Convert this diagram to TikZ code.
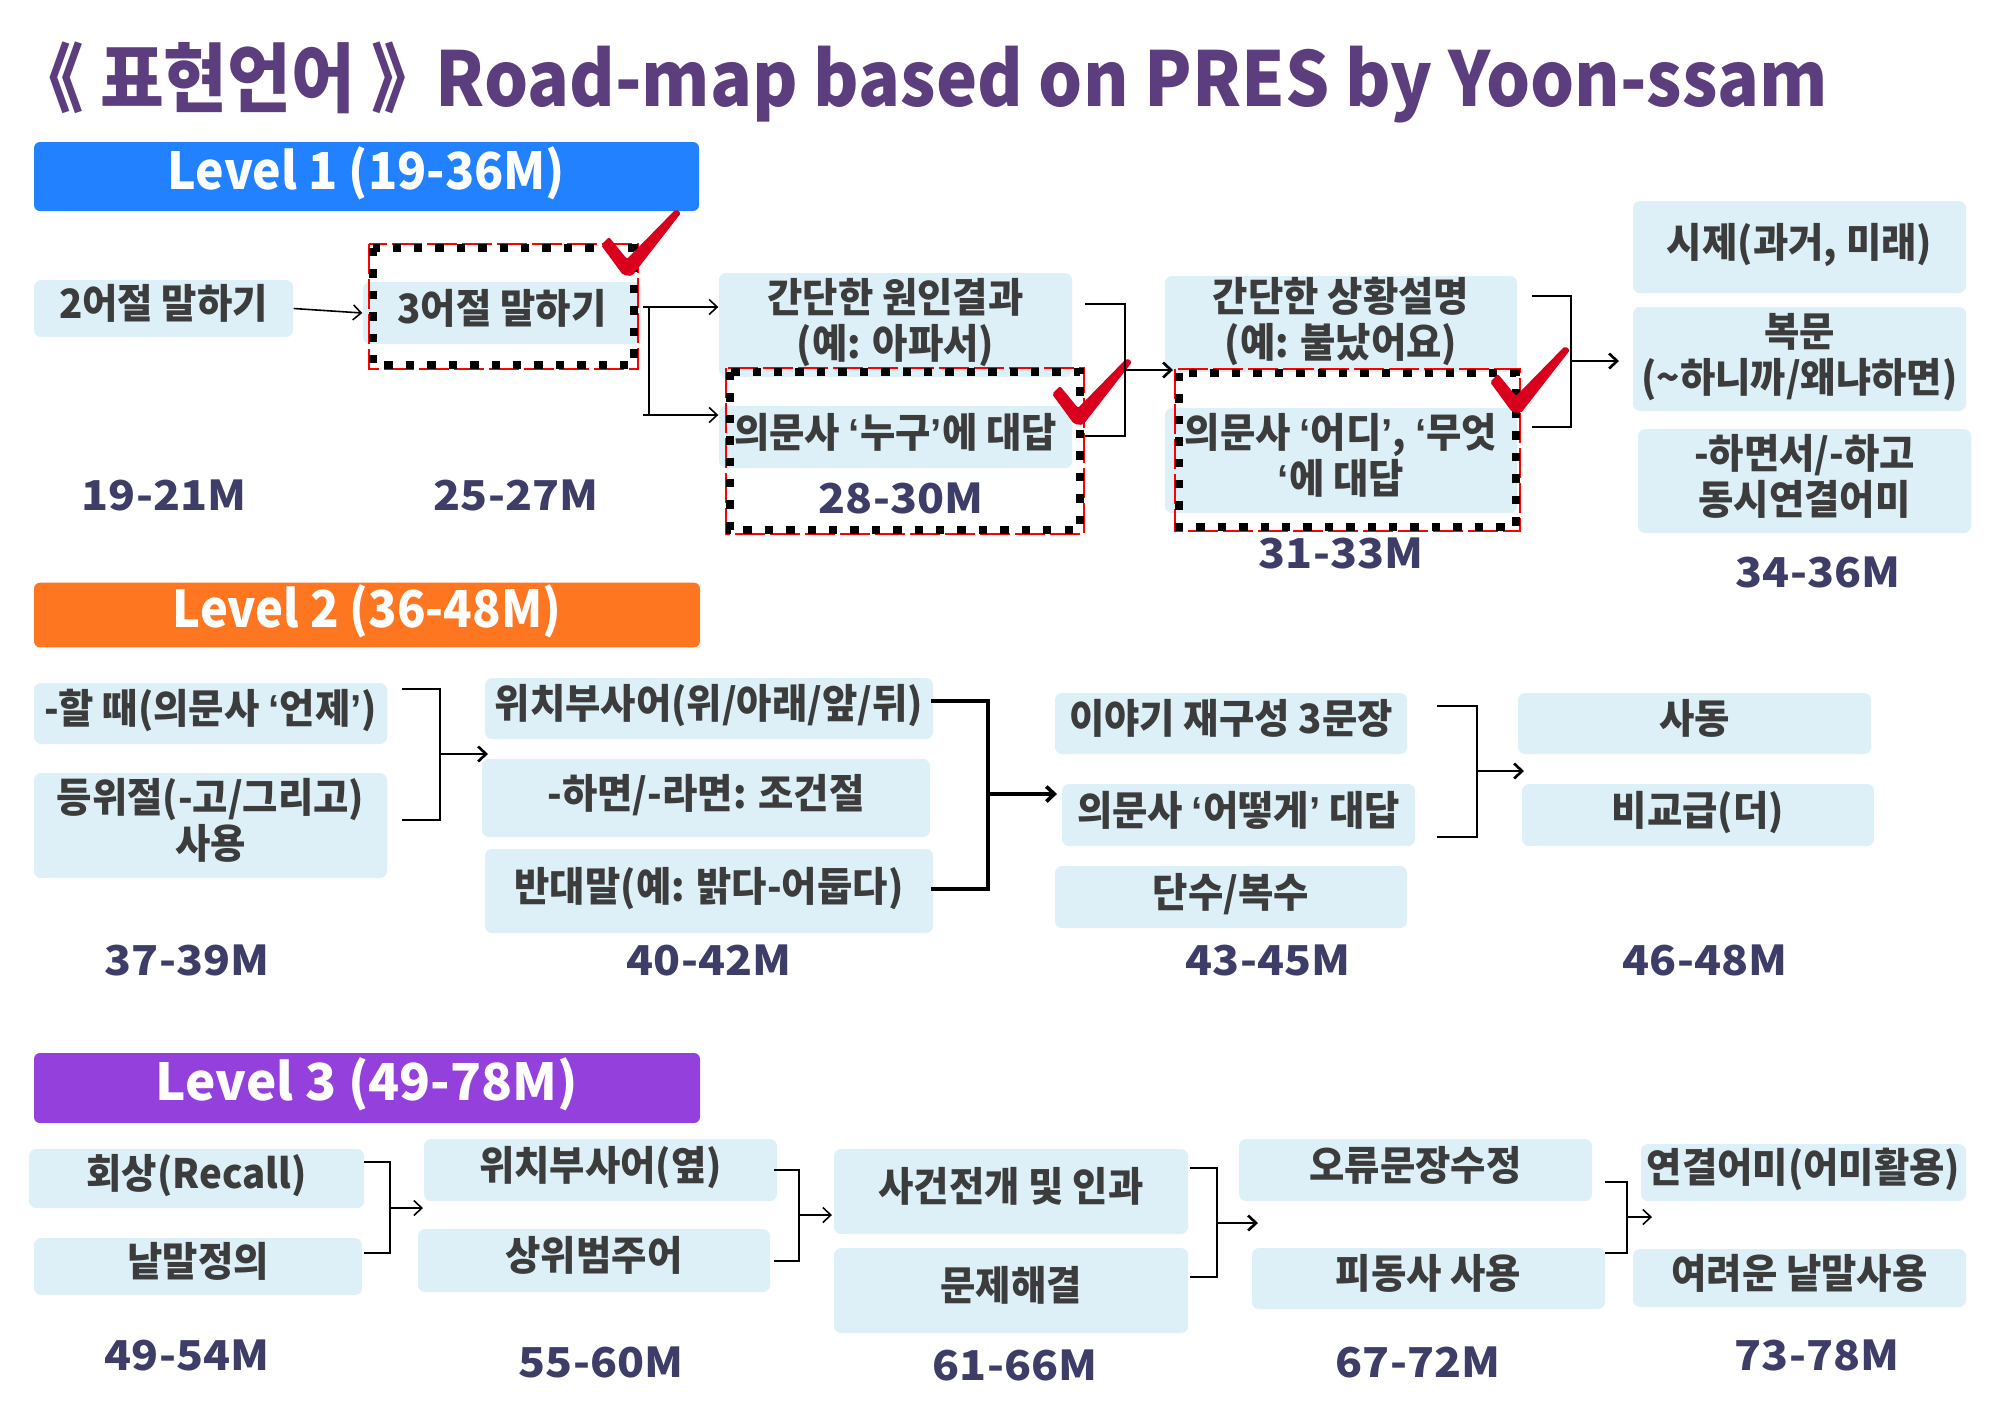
\documentclass[tikz,border=0pt]{standalone}
\usepackage{fontspec}
\usepackage{graphicx}
\setmainfont{Noto Sans CJK KR}
\newfontfamily\kfont{Noto Sans CJK KR}[FakeStretch=0.95]
\newfontfamily\mfont{Noto Sans CJK KR}[FakeStretch=1.08]
\newfontfamily\qfont{Liberation Sans}
\usetikzlibrary{arrows.meta}
\definecolor{boxc}{HTML}{DDF0F7}
\definecolor{txtc}{HTML}{3C3C3C}
\definecolor{labc}{HTML}{3E3D68}
\definecolor{titlec}{HTML}{5C3D7E}
\definecolor{lvone}{HTML}{2181FF}
\definecolor{lvtwo}{HTML}{FF7621}
\definecolor{lvthree}{HTML}{9440DD}
\definecolor{chkred}{HTML}{D8001C}
\newcommand\qo{{\qfont ‘}}
\newcommand\qc{{\qfont ’}}
\newcommand\kbox[7][]{\node[kb, #1, minimum width={(#5-#3)*0.01cm}, minimum height={(#6-#4)*0.01cm}] (#2) at ({(#3+#5)/2},{(#4+#6)/2}) {#7};}
\newcommand\lvbox[7]{\node[banner, fill=#2, minimum width={(#5-#3)*0.01cm}, minimum height={(#6-#4)*0.01cm}] (#1) at ({(#3+#5)/2},{(#4+#6)/2}) {#7};}
\newcommand\mlabel[4]{\node[mlab] (#1) at (#2,#3) {#4};}
\newcommand\redcheck[1]{\fill[chkred, shift={(#1)}, rounded corners=0.02cm] (-27,-28) -- (-19,-36) -- (-1,-14) -- (48,-64) -- (53,-60) -- (4,3) -- (-5,2) -- cycle;}
\newcommand\bracketto[8]{%
  \coordinate (#1t) at (#3,#4); \coordinate (#1b) at (#3,#6);
  \coordinate (#1m) at (#5,#7); \coordinate (#1x) at (#8,#7);
  \draw[#2] (#1t) -| (#1m) |- (#1b);
  \draw[#2,arr] (#1m) -- (#1x);}
\begin{document}
\begin{tikzpicture}[x=0.01cm,y=-0.01cm,
  kb/.style={fill=boxc, draw=none, rounded corners=0.07cm, inner sep=0pt, align=center,
    font=\kfont\bfseries\fontsize{11.5pt}{13.1pt}\selectfont, text=txtc,
    text height=0.35cm, text depth=0.144cm},
  two/.style={text height=0.81cm},
  banner/.style={rounded corners=0.06cm, inner sep=0pt, text=white,
    font=\bfseries\fontsize{14.5pt}{16pt}\selectfont, text height=0.45cm, text depth=0.196cm},
  mlab/.style={anchor=base, inner sep=0pt, text=labc, font=\mfont\bfseries\fontsize{11.7pt}{14pt}\selectfont},
  con/.style={draw=black, line width=0.45pt},
  conm/.style={draw=black, line width=0.75pt},
  cont/.style={draw=black, line width=1.05pt},
  arr/.style={-{Straight Barb[length=0.08cm,width=0.15cm]}},
  dbred/.style={draw=red, line width=0.6pt, dash pattern=on 0.3cm off 0.05cm},
  dbblk/.style={draw=black, line width=0.084cm, dash pattern=on 0.084cm off 0.13cm}
]
\useasboundingbox (0,0) rectangle (2000,1414);
\fill[white] (0,0) rectangle (2000,1414);

% title
\node[anchor=base west, inner sep=0pt, text=titlec, font=\bfseries\fontsize{21.5pt}{24pt}\selectfont] (title) at (14,106)
  {\resizebox{18.12cm}{\height}{《 표현언어 》\kern-0.3em\ Road-map based on PRES by Yoon-ssam}};

% level banners
\lvbox{lv1}{lvone}{34}{142}{699}{211}{\resizebox{3.97cm}{\height}{Level 1 (19-36M)}}
\lvbox{lv2}{lvtwo}{34}{583}{700}{647}{\resizebox{3.88cm}{\height}{Level 2 (36-48M)}}
\lvbox{lv3}{lvthree}{34}{1053}{700}{1123}{\resizebox{4.22cm}{\height}{Level 3 (49-78M)}}

% row 1 boxes
\kbox{A1}{34}{280}{293}{337}{2어절 말하기}
\kbox{A2}{363}{282}{641}{344}{3어절 말하기}
\kbox[two]{B1}{719}{273}{1072}{377}{간단한 원인결과\\(예: 아파서)}
\kbox{B2}{719}{406}{1072}{468}{의문사 \qo 누구\qc 에 대답}
\kbox[two]{C1}{1165}{276}{1517}{372}{간단한 상황설명\\(예: 불났어요)}
\kbox[two]{C2}{1165}{408}{1517}{513}{의문사 \qo 어디\qc, \qo 무엇\\\qo 에 대답}
\kbox{D1}{1633}{201}{1966}{293}{시제(과거, 미래)}
\kbox[two]{D2}{1633}{307}{1966}{411}{복문\\(\textasciitilde 하니까/왜냐하면)}
\kbox[two]{D3}{1638}{429}{1971}{533}{-하면서/-하고\\동시연결어미}

% row 2 boxes
\kbox{E1}{34}{683}{387}{744}{-할 때(의문사 \qo 언제\qc)}
\kbox[two]{E2}{34}{773}{387}{878}{등위절(-고/그리고)\\사용}
\kbox{F1}{485}{678}{933}{739}{위치부사어(위/아래/앞/뒤)}
\kbox{F2}{482}{759}{930}{837}{-하면/-라면: 조건절}
\kbox{F3}{485}{849}{933}{933}{반대말(예: 밝다-어둡다)}
\kbox{G1}{1055}{693}{1407}{754}{이야기 재구성 3문장}
\kbox{G2}{1062}{784}{1415}{846}{의문사 \qo 어떻게\qc\ 대답}
\kbox{G3}{1055}{866}{1407}{928}{단수/복수}
\kbox{H1}{1518}{693}{1871}{754}{사동}
\kbox{H2}{1522}{784}{1874}{846}{비교급(더)}

% row 3 boxes
\kbox{I1}{29}{1149}{364}{1208}{회상(Recall)}
\kbox{I2}{34}{1238}{362}{1295}{낱말정의}
\kbox{J1}{424}{1139}{777}{1201}{위치부사어(옆)}
\kbox{J2}{418}{1229}{770}{1292}{상위범주어}
\kbox{K1}{834}{1149}{1188}{1234}{사건전개 및 인과}
\kbox{K2}{834}{1248}{1188}{1333}{문제해결}
\kbox{L1}{1239}{1139}{1592}{1201}{오류문장수정}
\kbox{L2}{1252}{1248}{1605}{1309}{피동사 사용}
\kbox{M1}{1641}{1144}{1966}{1201}{연결어미(어미활용)}
\kbox{M2}{1633}{1249}{1966}{1307}{여려운 낱말사용}

% month labels
\mlabel{m1}{164}{510}{19-21M}
\mlabel{m2}{516}{510}{25-27M}
\mlabel{m3}{901}{513}{28-30M}
\mlabel{m4}{1341}{568}{31-33M}
\mlabel{m5}{1818}{587}{34-36M}
\mlabel{m6}{187}{975}{37-39M}
\mlabel{m7}{709}{975}{40-42M}
\mlabel{m8}{1268}{975}{43-45M}
\mlabel{m9}{1705}{975}{46-48M}
\mlabel{m10}{187}{1370}{49-54M}
\mlabel{m11}{601}{1377}{55-60M}
\mlabel{m12}{1015}{1380}{61-66M}
\mlabel{m13}{1418}{1377}{67-72M}
\mlabel{m14}{1817}{1370}{73-78M}

% dashed highlight frames
\draw[dbred] (369,244) rectangle (638,369);
\draw[dbblk] (373,248) rectangle (634,365);
\draw[dbred] (726,368) rectangle (1084,534);
\draw[dbblk] (730,372) rectangle (1080,530);
\draw[dbred] (1175,369) rectangle (1520,531);
\draw[dbblk] (1179,373) rectangle (1516,527);

% red check marks
\redcheck{628,273}
\redcheck{1079,422}
\redcheck{1517,410}

% connectors row 1
\draw[con,arr] (A1.east) -- (A2.west);
\coordinate (fa) at (643,307);
\coordinate (fb) at (643,415);
\coordinate (fv) at (649,307);
\coordinate (fw) at (649,415);
\draw[con,arr] (fa) -- (B1.west |- fa);
\draw[con] (fv) -- (fw);
\draw[con,arr] (fb) -- (B2.west |- fb);
\bracketto{bb}{conm}{1085}{304}{1125}{436}{370}{1173}
\bracketto{bc}{conm}{1532}{296}{1571}{427}{361}{1619}

% connectors row 2
\bracketto{be}{conm}{402}{689}{440}{820}{754}{488}
\bracketto{bf}{cont}{931}{701}{988}{889}{794}{1057}
\bracketto{bg}{conm}{1437}{706}{1477}{837}{771}{1524}

% connectors row 3
\bracketto{bi}{con}{364}{1162}{390}{1253}{1208}{423}
\bracketto{bj}{con}{774}{1170}{799}{1261}{1215}{832}
\bracketto{bk}{conm}{1190}{1168}{1217}{1277}{1223}{1258}
\bracketto{bl}{con}{1605}{1182}{1627}{1253}{1217}{1652}
\end{tikzpicture}
\end{document}
